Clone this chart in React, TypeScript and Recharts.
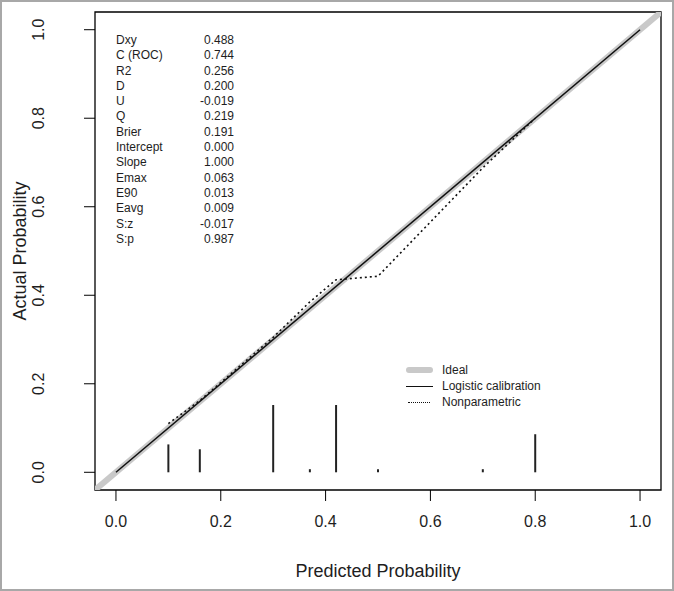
import {
  ComposedChart,
  Line,
  XAxis,
  YAxis,
  ReferenceArea,
  ReferenceLine,
} from 'recharts';

const ticks = [0, 0.2, 0.4, 0.6, 0.8, 1.0];

// ideal diagonal covers the whole plot region
const ideal = [
  { x: -0.04, y: -0.04 },
  { x: 1.04, y: 1.04 },
];

const logistic = [
  { x: 0, y: 0 },
  { x: 1, y: 1 },
];

const nonparametric = [
  { x: 0.1, y: 0.11 },
  { x: 0.16, y: 0.162 },
  { x: 0.3, y: 0.305 },
  { x: 0.37, y: 0.385 },
  { x: 0.42, y: 0.435 },
  { x: 0.5, y: 0.443 },
  { x: 0.7, y: 0.688 },
  { x: 0.8, y: 0.8 },
];

// distribution spikes at the bottom
const rugX = [0.1, 0.16, 0.3, 0.37, 0.42, 0.5, 0.7, 0.8];
const rugH = [0.063, 0.052, 0.152, 0.007, 0.152, 0.007, 0.007, 0.086];

const statLabels = ['Dxy', 'C (ROC)', 'R2', 'D', 'U', 'Q', 'Brier', 'Intercept', 'Slope', 'Emax', 'E90', 'Eavg', 'S:z', 'S:p'];
const statValues = ['0.488', '0.744', '0.256', '0.200', '-0.019', '0.219', '0.191', '0.000', '1.000', '0.063', '0.013', '0.009', '-0.017', '0.987'];

const FONT = '"Liberation Sans", Arial, Helvetica, sans-serif';
const INK = '#1e1e1e';

const YTick = (props: any) => {
  const { x, y, payload } = props;
  const cx = x - 38;
  return (
    <text
      x={cx}
      y={y}
      transform={`rotate(-90, ${cx}, ${y})`}
      textAnchor="middle"
      fontSize={16}
      fontFamily={FONT}
      fill={INK}
    >
      {Number(payload.value).toFixed(1)}
    </text>
  );
};

export default function App() {
  return (
    <div
      style={{
        position: 'absolute',
        left: 0,
        top: 0,
        width: 674,
        height: 591,
        background: '#fff',
        fontFamily: FONT,
      }}
    >
      <ComposedChart width={674} height={591} margin={{ top: 12, right: 13, bottom: 0, left: 0 }}>
        <XAxis
          type="number"
          dataKey="x"
          domain={[-0.04, 1.04]}
          ticks={ticks}
          allowDataOverflow
          axisLine={false}
          tickLine={{ stroke: '#000' }}
          tickSize={11}
          tickMargin={15}
          height={101}
          tick={{ fontSize: 16, fill: INK, fontFamily: FONT }}
          tickFormatter={(v: number) => v.toFixed(1)}
          label={{
            content: (p: any) => {
              const vb = p.viewBox;
              return (
                <text x={vb.x + vb.width / 2} y={577} textAnchor="middle" fontSize={18} fontFamily={FONT} fill={INK}>
                  Predicted Probability
                </text>
              );
            },
          }}
        />
        <YAxis
          type="number"
          dataKey="y"
          domain={[-0.04, 1.04]}
          ticks={ticks}
          allowDataOverflow
          axisLine={false}
          tickLine={{ stroke: '#000' }}
          tickSize={11}
          width={95}
          tick={<YTick />}
          label={{
            content: (p: any) => {
              const vb = p.viewBox;
              const cy = vb.y + vb.height / 2;
              return (
                <text x={26} y={cy} transform={`rotate(-90, 26, ${cy})`} textAnchor="middle" fontSize={18} fontFamily={FONT} fill={INK}>
                  Actual Probability
                </text>
              );
            },
          }}
        />
        <Line
          data={ideal}
          dataKey="y"
          stroke="#c9c9c9"
          strokeWidth={6}
          dot={false}
          isAnimationActive={false}
        />
        <Line
          data={logistic}
          dataKey="y"
          stroke="#111"
          strokeWidth={1.5}
          dot={false}
          isAnimationActive={false}
        />
        <Line
          data={nonparametric}
          dataKey="y"
          stroke="#111"
          strokeWidth={1.6}
          strokeDasharray="2 3"
          dot={false}
          isAnimationActive={false}
        />
        {rugX.map((x, i) => (
          <ReferenceLine
            key={i}
            segment={[
              { x, y: 0 },
              { x, y: rugH[i] },
            ]}
            stroke="#222"
            strokeWidth={2}
          />
        ))}
        <ReferenceArea x1={-0.04} x2={1.04} y1={-0.04} y2={1.04} fill="none" stroke="#000" strokeWidth={1.3} />
      </ComposedChart>

      {/* stats block */}
      <div style={{ position: 'absolute', left: 116, top: 33, width: 118, fontSize: 12, color: INK }}>
        {statLabels.map((s, i) => (
          <div key={s} style={{ display: 'flex', justifyContent: 'space-between', height: 15.3, lineHeight: '15.3px' }}>
            <span>{s}</span>
            <span>{statValues[i]}</span>
          </div>
        ))}
      </div>

      {/* legend */}
      <div style={{ position: 'absolute', left: 406, top: 362, fontSize: 12, color: INK }}>
        {[
          { name: 'Ideal', line: <div style={{ width: 27, height: 6, borderRadius: 3, background: '#c9c9c9' }} /> },
          { name: 'Logistic calibration', line: <div style={{ width: 27, borderTop: '1.6px solid #111' }} /> },
          { name: 'Nonparametric', line: <div style={{ width: 22, marginLeft: 2, borderTop: '1.6px dotted #111' }} /> },
        ].map((r) => (
          <div key={r.name} style={{ display: 'flex', alignItems: 'center', height: 16 }}>
            <div style={{ width: 36, display: 'flex', alignItems: 'center' }}>{r.line}</div>
            <span>{r.name}</span>
          </div>
        ))}
      </div>

      {/* outer frame */}
      <div
        style={{
          position: 'absolute',
          left: 0,
          top: 0,
          width: 674,
          height: 591,
          boxSizing: 'border-box',
          border: '2px solid #a8a8a8',
          pointerEvents: 'none',
        }}
      />
    </div>
  );
}
